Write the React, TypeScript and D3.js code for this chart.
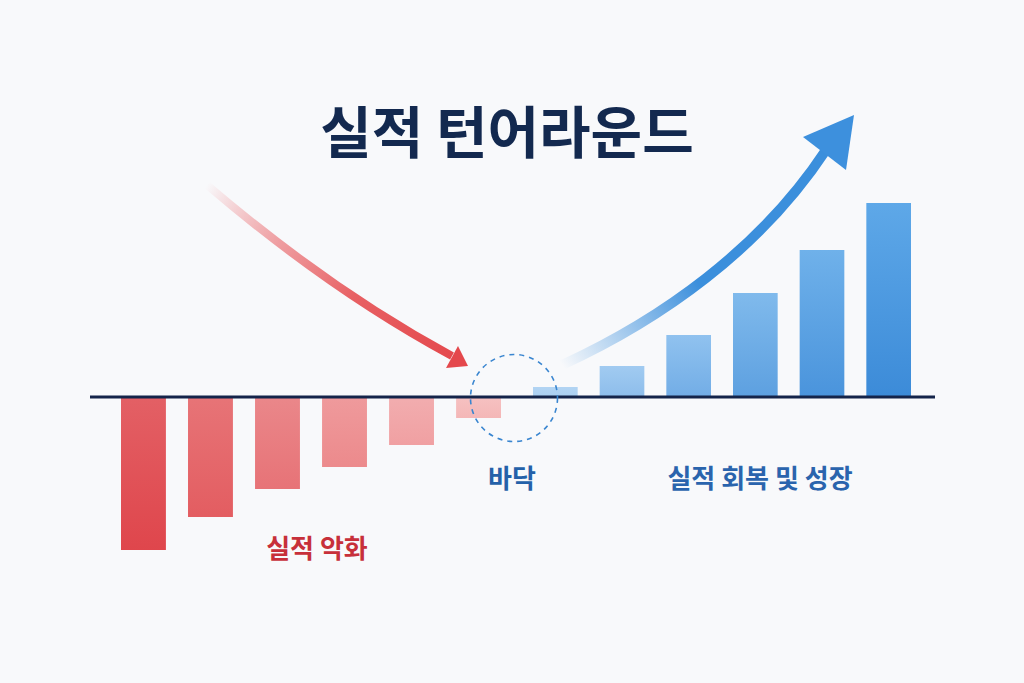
import React from "react";
import * as d3 from "d3";

// 실적 악화 구간 (음수) / 회복 구간 (양수)
const declineLabels = ["D1", "D2", "D3", "D4", "D5", "D6"];
const declineValues = [-7.65, -6.0, -4.6, -3.5, -2.4, -1.05];
const recoveryLabels = ["R1", "R2", "R3", "R4", "R5", "R6"];
const recoveryValues = [0.5, 1.55, 3.1, 5.2, 7.35, 9.7];

const titleText = "실적 턴어라운드";
const declineText = "실적 악화";
const bottomText = "바닥";
const recoveryText = "실적 회복 및 성장";

const W = 1024;
const H = 683;
const FONT = "'Noto Sans CJK KR', 'Noto Sans', sans-serif";

export default function App() {
  const y = d3.scaleLinear().domain([-10, 10]).range([597, 197]);
  const xNeg = d3.scaleBand<string>().domain(declineLabels).range([121, 501]).paddingInner(0.33);
  const xPos = d3.scaleBand<string>().domain(recoveryLabels).range([533, 911]).paddingInner(0.33);
  const y0 = y(0);

  const redScale = d3.interpolateRgb("#df464c", "#f6c2c2");
  const blueScale = d3.interpolateRgb("#b2d4f3", "#5ea8e8");

  const redArrow = d3.path();
  redArrow.moveTo(207, 185);
  redArrow.quadraticCurveTo(330, 290, 452, 356);

  const blueArrow = d3.path();
  blueArrow.moveTo(562, 365);
  blueArrow.bezierCurveTo(660, 320, 760, 250, 826, 150);

  return (
    <svg width={W} height={H} style={{ position: "absolute", left: 0, top: 0, display: "block" }}>
      <defs>
        {declineValues.map((v, i) => {
          const c = d3.rgb(redScale(i / 5.5));
          return (
            <linearGradient key={i} id={`rg${i}`} x1="0" y1="0" x2="0" y2="1">
              <stop offset="0" stopColor={d3.interpolateRgb(c, "#ffffff")(0.14)} />
              <stop offset="1" stopColor={c.formatHex()} />
            </linearGradient>
          );
        })}
        {recoveryValues.map((v, i) => {
          const c = d3.rgb(blueScale(i / 5));
          return (
            <linearGradient key={i} id={`bg${i}`} x1="0" y1="0" x2="0" y2="1">
              <stop offset="0" stopColor={c.formatHex()} />
              <stop offset="1" stopColor={d3.interpolateRgb(c, "#2a7bcf")(0.05 + 0.6 * (i / 5))} />
            </linearGradient>
          );
        })}
        <linearGradient id="redArrow" gradientUnits="userSpaceOnUse" x1="207" y1="185" x2="460" y2="360">
          <stop offset="0" stopColor="#e8474c" stopOpacity="0" />
          <stop offset="0.3" stopColor="#e86064" stopOpacity="0.6" />
          <stop offset="0.6" stopColor="#e65356" stopOpacity="0.92" />
          <stop offset="1" stopColor="#e4484c" stopOpacity="1" />
        </linearGradient>
        <linearGradient id="blueArrow" gradientUnits="userSpaceOnUse" x1="562" y1="365" x2="690" y2="272">
          <stop offset="0" stopColor="#3b8fdc" stopOpacity="0" />
          <stop offset="1" stopColor="#3b8fdc" stopOpacity="1" />
        </linearGradient>
      </defs>

      <rect width={W} height={H} fill="#f8f9fb" />

      <text x={507} y={153} textAnchor="middle" fontFamily={FONT} fontWeight={700} fontSize={56} fill="#13294f">
        {titleText}
      </text>

      {declineValues.map((v, i) => (
        <rect key={i} x={xNeg(declineLabels[i])} y={y0} width={xNeg.bandwidth()} height={y(v) - y0} fill={`url(#rg${i})`} />
      ))}
      {recoveryValues.map((v, i) => (
        <rect key={i} x={xPos(recoveryLabels[i])} y={y(v)} width={xPos.bandwidth()} height={y0 - y(v)} fill={`url(#bg${i})`} />
      ))}

      <line x1={90} x2={935} y1={y0} y2={y0} stroke="#14244a" strokeWidth={3} />

      <circle cx={514} cy={398} r={43.5} fill="none" stroke="#3a86d0" strokeWidth={1.6} strokeDasharray="5 5" />

      <path d={redArrow.toString()} fill="none" stroke="url(#redArrow)" strokeWidth={8} />
      <polygon points="468,366 446,368 458,346" fill="#e4484c" />

      <path d={blueArrow.toString()} fill="none" stroke="url(#blueArrow)" strokeWidth={10} />
      <polygon points="854,115 803,137 846,170" fill="#3d90dd" />

      <text x={317} y={558} textAnchor="middle" fontFamily={FONT} fontWeight={700} fontSize={26} fill="#c7303a">
        {declineText}
      </text>
      <text x={512} y={488} textAnchor="middle" fontFamily={FONT} fontWeight={700} fontSize={26} fill="#2461a9">
        {bottomText}
      </text>
      <text x={760} y={488} textAnchor="middle" fontFamily={FONT} fontWeight={700} fontSize={26} fill="#2a64ad">
        {recoveryText}
      </text>
    </svg>
  );
}
